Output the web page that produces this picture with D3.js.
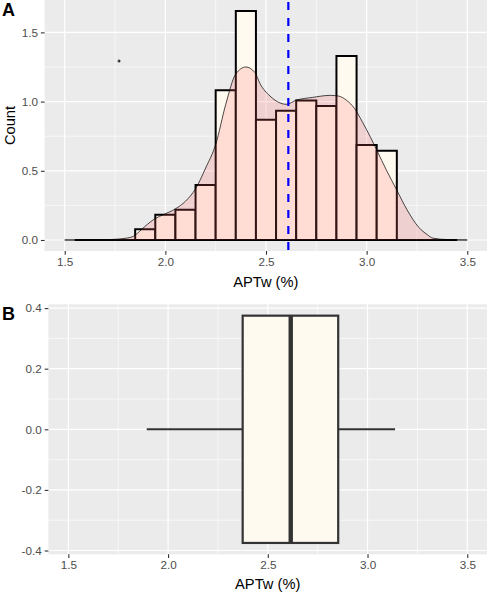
<!DOCTYPE html>
<html><head><meta charset="utf-8">
<script src="https://cdn.jsdelivr.net/npm/d3@7"></script>
<style>
html,body{margin:0;padding:0;background:#fff;}
svg{display:block;font-family:"Liberation Sans",Arial,sans-serif;}
</style></head>
<body>
<svg id="chart" width="487" height="594"></svg>
<script>
// ---------- data ----------
const binCenters = [1.6,1.7,1.8,1.9,2.0,2.1,2.2,2.3,2.4,2.5,2.6,2.7,2.8,2.9,3.0,3.1,3.2,3.3,3.4];
const binDensity = [0,0,0,0.077,0.183,0.219,0.397,1.082,1.655,0.869,0.934,1.007,0.968,1.329,0.686,0.645,0,0,0];
const binWidth = 0.1;
const densityX = [1.5,1.6,1.7,1.76,1.8,1.84,1.87,1.9,1.95,1.99,2.05,2.1,2.15,2.2,2.25,2.3,2.35,2.4,2.445,2.47,2.52,2.57,2.6,2.65,2.73,2.82,2.86,2.9,2.94,2.98,3.02,3.05,3.1,3.15,3.2,3.26,3.3,3.33,3.4,3.5];
const densityY = [0,0,0.002,0.006,0.012,0.026,0.06,0.1,0.155,0.183,0.225,0.28,0.37,0.52,0.69,0.98,1.2,1.25,1.21,1.13,1.04,0.99,0.98,1.01,1.03,1.045,1.04,1.01,0.95,0.85,0.74,0.65,0.5,0.36,0.22,0.09,0.04,0.013,0.003,0];
const meanValue = 2.611;
const strayPoint = [1.77, 1.293];
const boxStats = {whiskerLow:1.893, q1:2.374, median:2.615, q3:2.853, whiskerHigh:3.138};
const xTicks = [1.5,2.0,2.5,3.0,3.5];
const xMinor = [1.75,2.25,2.75,3.25];
const yTicksA = [0,0.5,1.0,1.5];
const yMinorA = [0.25,0.75,1.25];
const yTicksB = [-0.4,-0.2,0,0.2,0.4];
const yMinorB = [-0.3,-0.1,0.1,0.3];
const xTitle = "APTw (%)";
const yTitleA = "Count";

// ---------- setup ----------
const svg = d3.select("#chart");
const TXT = "#4D4D4D", TICK = "#333333", PANEL = "#EBEBEB";
const fmt = d => d.toFixed(1);

function drawPanel(x, y, yTicks, yMinor, top, bottom, left) {
  const g = svg.append("g");
  g.append("rect").attr("x", left).attr("y", top).attr("width", 487 - left).attr("height", bottom - top).attr("fill", PANEL);
  xMinor.forEach(v => g.append("line").attr("x1", x(v)).attr("x2", x(v)).attr("y1", top).attr("y2", bottom).attr("stroke", "#fff").attr("stroke-width", 0.6));
  yMinor.forEach(v => g.append("line").attr("x1", left).attr("x2", 487).attr("y1", y(v)).attr("y2", y(v)).attr("stroke", "#fff").attr("stroke-width", 0.6));
  xTicks.forEach(v => g.append("line").attr("x1", x(v)).attr("x2", x(v)).attr("y1", top).attr("y2", bottom).attr("stroke", "#fff").attr("stroke-width", 1.2));
  yTicks.forEach(v => g.append("line").attr("x1", left).attr("x2", 487).attr("y1", y(v)).attr("y2", y(v)).attr("stroke", "#fff").attr("stroke-width", 1.2));
  const ax = svg.append("g").attr("transform", `translate(0,${bottom})`)
    .call(d3.axisBottom(x).tickValues(xTicks).tickFormat(fmt).tickSize(3.7).tickPadding(3));
  const ay = svg.append("g").attr("transform", `translate(${left},0)`)
    .call(d3.axisLeft(y).tickValues(yTicks).tickFormat(fmt).tickSize(3.7).tickPadding(3));
  [ax, ay].forEach(a => {
    a.select(".domain").remove();
    a.selectAll("line").attr("stroke", TICK).attr("stroke-width", 1.1);
    a.selectAll("text").attr("fill", TXT).style("font-size", "11.7px").style("font-family", "'Liberation Sans',Arial,sans-serif");
  });
  return g;
}

// ---------- Panel A ----------
const xA = d3.scaleLinear().domain([1.4, 3.6]).range([44.6, 487.4]);
const yA = d3.scaleLinear().domain([-0.0795, 1.734]).range([251, 0]);
drawPanel(xA, yA, yTicksA, yMinorA, 0, 251, 44.6);

const gA = svg.append("g");
gA.selectAll("path.bar").data(binCenters).join("path").attr("class", "bar")
  .attr("d", (d, i) => {
    const x0 = xA(d - binWidth / 2), x1 = xA(d + binWidth / 2);
    const y0 = yA(0), y1 = yA(binDensity[i]);
    return `M${x0},${y0}V${y1}H${x1}V${y0}Z`;
  })
  .attr("fill", "#FFFAF0").attr("stroke", "#000").attr("stroke-width", 2)
  .attr("stroke-linejoin", "miter").attr("stroke-linecap", "square");

const dens = densityX.map((v, i) => [v, densityY[i]]);
gA.append("path").datum(dens)
  .attr("d", d3.area().x(d => xA(d[0])).y0(yA(0)).y1(d => yA(d[1])).curve(d3.curveMonotoneX))
  .attr("fill", "#FF6666").attr("fill-opacity", 0.2);
gA.append("path").datum(dens)
  .attr("d", d3.line().x(d => xA(d[0])).y(d => yA(d[1])).curve(d3.curveMonotoneX))
  .attr("fill", "none").attr("stroke", "#000").attr("stroke-width", 0.7);
gA.append("line").attr("x1", xA(densityX[0])).attr("x2", xA(densityX[densityX.length - 1]))
  .attr("y1", yA(0)).attr("y2", yA(0)).attr("stroke", "#000").attr("stroke-width", 0.7);

gA.append("line").attr("x1", xA(meanValue)).attr("x2", xA(meanValue))
  .attr("y1", 0).attr("y2", 251).attr("stroke", "#0000FF").attr("stroke-width", 2.2)
  .attr("stroke-dasharray", "8,8").attr("stroke-dashoffset", -2);

const sp = [xA(strayPoint[0]), yA(strayPoint[1])];
gA.append("path").attr("d", `M${sp[0]-1.5},${sp[1]}H${sp[0]+1.5}M${sp[0]},${sp[1]-1.5}V${sp[1]+1.5}`)
  .attr("stroke", "#000").attr("stroke-width", 1);

svg.append("text").attr("x", (44.6 + 487) / 2).attr("y", 287).attr("text-anchor", "middle")
  .style("font-size", "14.7px").attr("fill", "#000").text(xTitle);
svg.append("text").attr("transform", `translate(15,${251 / 2}) rotate(-90)`).attr("text-anchor", "middle")
  .style("font-size", "14.7px").attr("fill", "#000").text(yTitleA);
svg.append("text").attr("x", 2).attr("y", 16).style("font-size", "18px").style("font-weight", "bold").text("A");

// ---------- Panel B ----------
const xB = d3.scaleLinear().domain([1.4, 3.6]).range([48.4, 487.2]);
const yB = d3.scaleLinear().domain([-0.4125, 0.4125]).range([554.3, 304.3]);
drawPanel(xB, yB, yTicksB, yMinorB, 304.3, 554.3, 48.4);

const gB = svg.append("g");
const bw = 0.375;
gB.append("line").attr("x1", xB(boxStats.whiskerLow)).attr("x2", xB(boxStats.q1))
  .attr("y1", yB(0)).attr("y2", yB(0)).attr("stroke", "#333333").attr("stroke-width", 2);
gB.append("line").attr("x1", xB(boxStats.q3)).attr("x2", xB(boxStats.whiskerHigh))
  .attr("y1", yB(0)).attr("y2", yB(0)).attr("stroke", "#333333").attr("stroke-width", 2);
gB.append("rect").attr("x", xB(boxStats.q1)).attr("y", yB(bw))
  .attr("width", xB(boxStats.q3) - xB(boxStats.q1)).attr("height", yB(-bw) - yB(bw))
  .attr("fill", "#FFFAF0").attr("stroke", "#333333").attr("stroke-width", 2.2);
gB.append("line").attr("x1", xB(boxStats.median)).attr("x2", xB(boxStats.median))
  .attr("y1", yB(bw)).attr("y2", yB(-bw)).attr("stroke", "#333333").attr("stroke-width", 4.4);

svg.append("text").attr("x", (48.4 + 487) / 2).attr("y", 589).attr("text-anchor", "middle")
  .style("font-size", "14.7px").attr("fill", "#000").text(xTitle);
svg.append("text").attr("x", 2).attr("y", 320).style("font-size", "18px").style("font-weight", "bold").text("B");
</script>
</body></html>
